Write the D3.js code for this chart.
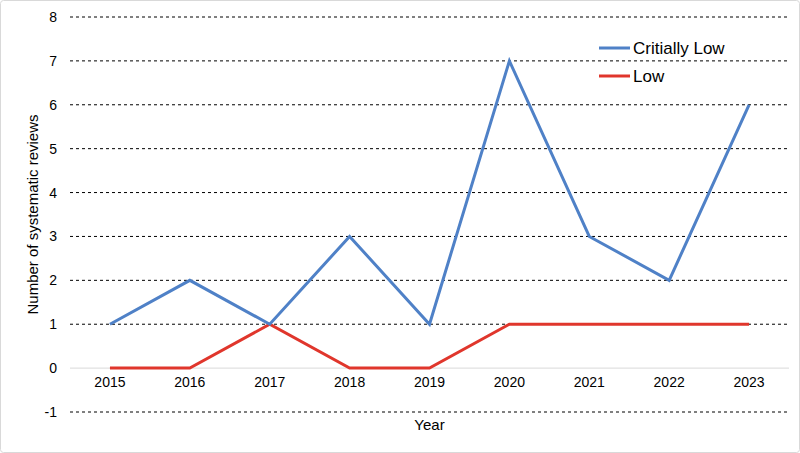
<!DOCTYPE html>
<html>
<head>
<meta charset="utf-8">
<script src="https://cdn.jsdelivr.net/npm/d3@7"></script>
<style>
  body { margin: 0; background: #fff; }
  svg { font-family: "Liberation Sans", Arial, sans-serif; }
</style>
</head>
<body>
<svg width="800" height="453"></svg>
<script>
const years = ["2015", "2016", "2017", "2018", "2019", "2020", "2021", "2022", "2023"];
const critiallyLow = [1, 2, 1, 3, 1, 7, 3, 2, 6];
const low = [0, 0, 1, 0, 0, 1, 1, 1, 1];
const yTicks = [-1, 0, 1, 2, 3, 4, 5, 6, 7, 8];

const svg = d3.select("svg");
const margin = { top: 17, right: 11, bottom: 41, left: 70 };
const width = 800 - margin.left - margin.right;
const height = 453 - margin.top - margin.bottom;

svg.append("rect")
    .attr("x", 0.5).attr("y", 0.5)
    .attr("width", 799).attr("height", 452)
    .attr("rx", 3)
    .attr("fill", "#fff")
    .attr("stroke", "#d9d9d9");

const g = svg.append("g").attr("transform", `translate(${margin.left},${margin.top})`);

const x = d3.scaleBand().domain(years).range([0, width]);
const y = d3.scaleLinear().domain([-1, 8]).range([height, 0]);

// gridlines
g.selectAll(".grid").data(yTicks.filter(d => d !== 0)).enter().append("line")
    .attr("x1", 0).attr("x2", width)
    .attr("y1", d => y(d)).attr("y2", d => y(d))
    .attr("stroke", "#000")
    .attr("stroke-width", 1)
    .attr("stroke-dasharray", "3,3");

// zero axis
g.append("line")
    .attr("x1", 0).attr("x2", width)
    .attr("y1", y(0)).attr("y2", y(0))
    .attr("stroke", "#d9d9d9")
    .attr("stroke-width", 1);

// y axis labels (plain hyphen for negatives)
const yAxis = g.append("g").call(d3.axisLeft(y).tickValues(yTicks).tickFormat(d => String(d)).tickSize(0).tickPadding(13));
yAxis.select(".domain").remove();
yAxis.selectAll("text").attr("font-size", 14).attr("fill", "#000")
    .attr("font-family", "Liberation Sans, Arial, sans-serif");

// x axis labels along zero line
const xAxis = g.append("g").attr("transform", `translate(0,${y(0)})`)
    .call(d3.axisBottom(x).tickSize(0).tickPadding(9));
xAxis.select(".domain").remove();
xAxis.selectAll("text").attr("font-size", 14).attr("fill", "#000")
    .attr("font-family", "Liberation Sans, Arial, sans-serif");

const line = d3.line()
    .x((d, i) => x(years[i]) + x.bandwidth() / 2)
    .y(d => y(d));

g.append("path").datum(low)
    .attr("d", line)
    .attr("fill", "none")
    .attr("stroke", "#e0362c")
    .attr("stroke-width", 3);

g.append("path").datum(critiallyLow)
    .attr("d", line)
    .attr("fill", "none")
    .attr("stroke", "#4f81c7")
    .attr("stroke-width", 3);

// axis titles
svg.append("text")
    .attr("x", margin.left + width / 2)
    .attr("y", 430)
    .attr("text-anchor", "middle")
    .attr("font-size", 15)
    .text("Year");

svg.append("text")
    .attr("transform", `translate(38,${margin.top + y(3.5)}) rotate(-90)`)
    .attr("text-anchor", "middle")
    .attr("font-size", 15)
    .text("Number of systematic reviews");

// legend
const legendItems = [
    { name: "Critially Low", color: "#4f81c7" },
    { name: "Low", color: "#e0362c" }
];
const legend = svg.append("g").attr("transform", "translate(599,48)");
legendItems.forEach((d, i) => {
    const row = legend.append("g").attr("transform", `translate(0,${i * 28})`);
    row.append("line")
        .attr("x1", 0).attr("x2", 31)
        .attr("stroke", d.color)
        .attr("stroke-width", 3);
    row.append("text")
        .attr("x", 34).attr("y", 6)
        .attr("font-size", 17)
        .text(d.name);
});
</script>
</body>
</html>
